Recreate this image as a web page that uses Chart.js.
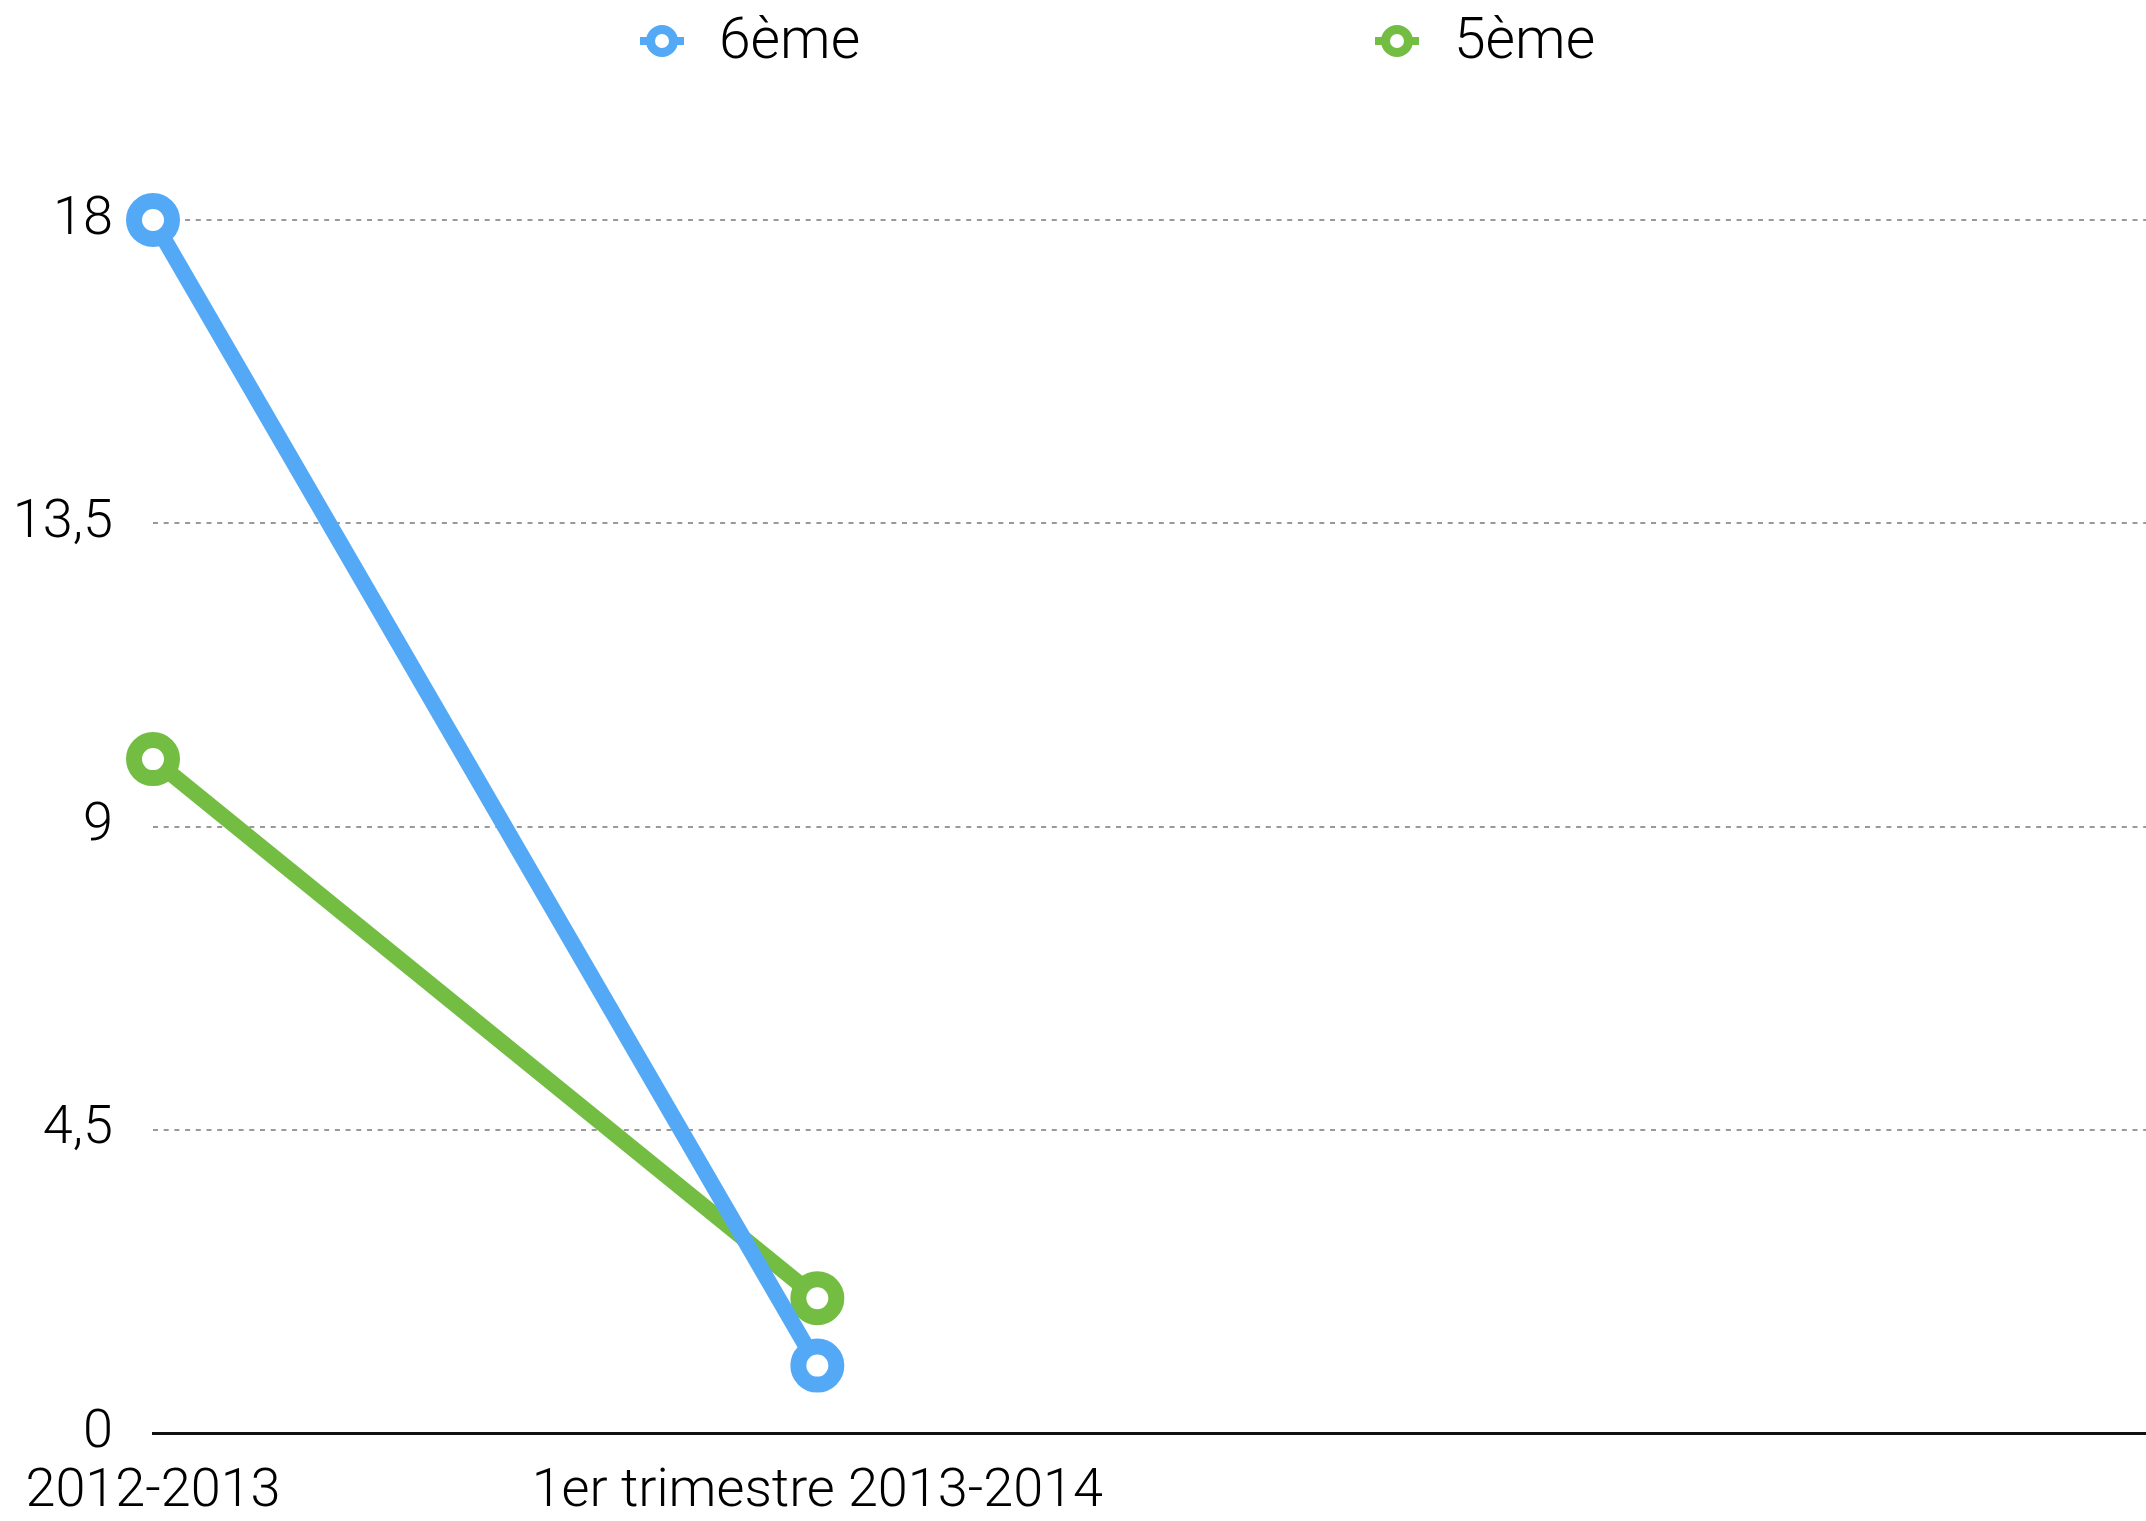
<!DOCTYPE html>
<html>
<head>
<meta charset="utf-8">
<script src="https://cdn.jsdelivr.net/npm/chart.js@4"></script>
<style>
    body { margin: 0; background: #fff; }
    #wrap { position: relative; width: 2146px; height: 1521px; }
</style>
</head>
<body>
<div id="wrap"><canvas id="chart"></canvas></div>
<script>
const categories = ['2012-2013', '1er trimestre 2013-2014', '', ''];
const seriesNames = ['6ème', '5ème'];
const sixieme = [18, 1, null, null];
const cinquieme = [10, 2, null, null];
const yTicks = [0, 4.5, 9, 13.5, 18];

const BLUE = '#54a9f6';
const GREEN = '#73bd43';
const FONT = '"Roboto", "Liberation Sans", sans-serif';

// legend drawn on the canvas: circle marker with little line stubs
const legendPlugin = {
    id: 'topLegend',
    afterDraw(chart) {
        const ctx = chart.ctx;
        const centers = [662, 1397];
        ctx.save();
        chart.data.datasets.forEach((ds, i) => {
            const cx = centers[i];
            const cy = 41;
            ctx.fillStyle = ds.borderColor;
            ctx.fillRect(cx - 22, cy - 4, 44, 8);
            ctx.beginPath();
            ctx.arc(cx, cy, 11.5, 0, Math.PI * 2);
            ctx.fillStyle = '#fff';
            ctx.fill();
            ctx.lineWidth = 9;
            ctx.strokeStyle = ds.borderColor;
            ctx.stroke();
            ctx.fillStyle = '#000';
            ctx.font = '300 57px ' + FONT;
            ctx.textBaseline = 'middle';
            ctx.textAlign = 'left';
            ctx.fillText(ds.label, cx + 57, cy + 3);
        });
        ctx.restore();
    }
};

const commonDs = {
    borderWidth: 16,
    pointRadius: 19,
    pointHoverRadius: 19,
    pointBorderWidth: 16,
    pointBackgroundColor: '#fff',
    tension: 0,
    clip: false,
    spanGaps: false
};

new Chart(document.getElementById('chart'), {
    type: 'line',
    data: {
        labels: categories,
        datasets: [
            Object.assign({ label: seriesNames[0], data: sixieme, borderColor: BLUE, pointBorderColor: BLUE }, commonDs),
            Object.assign({ label: seriesNames[1], data: cinquieme, borderColor: GREEN, pointBorderColor: GREEN }, commonDs)
        ]
    },
    options: {
        responsive: true,
        maintainAspectRatio: false,
        animation: false,
        layout: { autoPadding: false, padding: { top: 220, left: 0, right: 0, bottom: 0 } },
        plugins: {
            legend: { display: false },
            tooltip: { enabled: false }
        },
        scales: {
            x: {
                offset: false,
                afterFit: s => { s.height = 88; },
                // tick marks kept invisible, their length just spaces the labels from the axis
                grid: { display: true, drawOnChartArea: false, drawTicks: true, tickLength: 27, color: 'rgba(0,0,0,0)' },
                border: { display: true, color: '#111', width: 3 },
                ticks: {
                    autoSkip: false,
                    maxRotation: 0,
                    padding: 0,
                    color: '#000',
                    font: { family: FONT, size: 54, weight: '300' }
                }
            },
            y: {
                min: 0,
                max: 18,
                afterFit: s => { s.width = 153; },
                afterBuildTicks: s => { s.ticks = yTicks.map(v => ({ value: v })); },
                grid: {
                    drawTicks: false,
                    lineWidth: 2,
                    color: c => c.tick && c.tick.value === 0 ? 'rgba(0,0,0,0)' : '#999'
                },
                border: { display: false, dash: [5, 5.7] },
                ticks: {
                    padding: 40,
                    color: '#000',
                    font: { family: FONT, size: 54, weight: '300' },
                    callback: v => String(v).replace('.', ',')
                }
            }
        }
    },
    plugins: [legendPlugin]
});
</script>
</body>
</html>
